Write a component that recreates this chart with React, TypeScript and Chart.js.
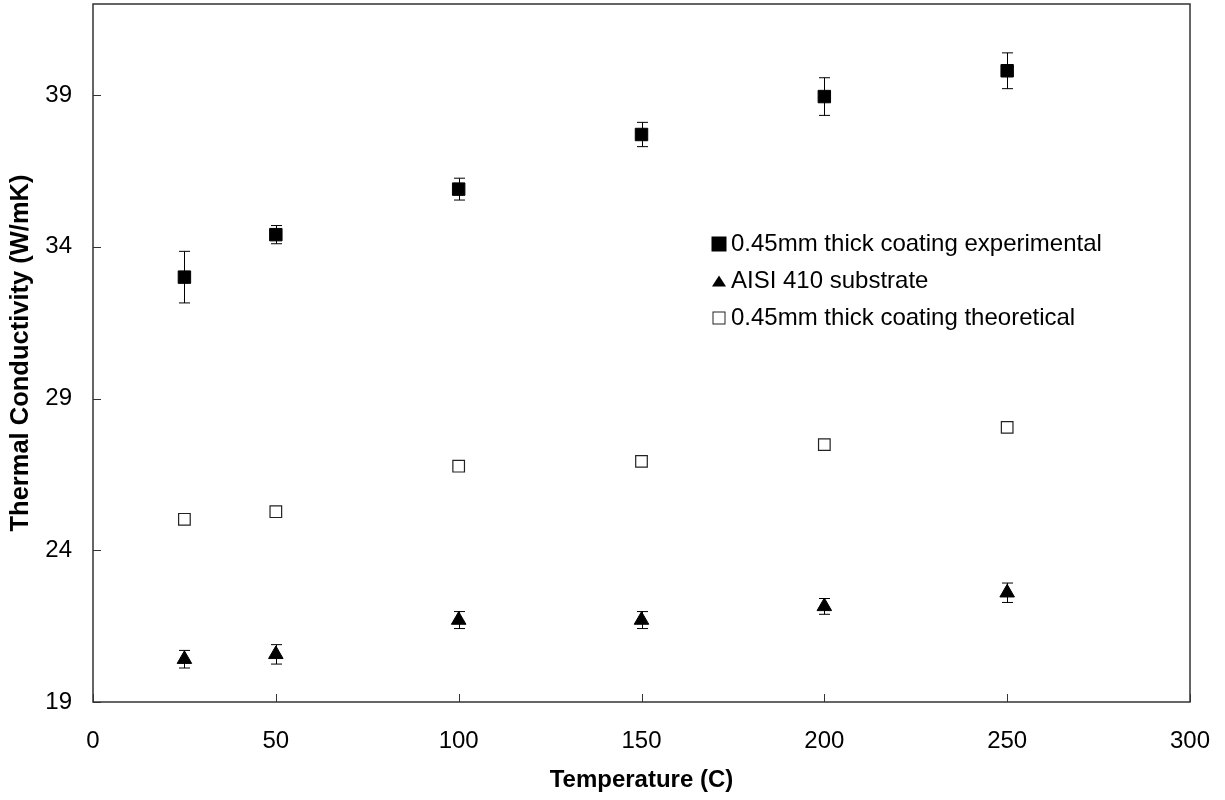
import React, { useEffect, useRef } from 'react';
import { Chart, registerables } from 'chart.js';

Chart.register(...registerables);

// ---- data ----
const temperatures = [25, 50, 100, 150, 200, 250];
const experimental = [33.0, 34.4, 35.9, 37.7, 38.95, 39.8];
const experimentalErr = [0.85, 0.3, 0.36, 0.4, 0.62, 0.59];
const substrate = [20.41, 20.57, 21.7, 21.7, 22.15, 22.6];
const substrateErr = [0.29, 0.32, 0.28, 0.28, 0.26, 0.32];
const theoretical = [25.02, 25.27, 26.77, 26.93, 27.48, 28.05];
const xTicks = [0, 50, 100, 150, 200, 250, 300];
const yTicks = [19, 24, 29, 34, 39];
const seriesLabels = [
  '0.45mm thick coating experimental',
  'AISI 410 substrate',
  '0.45mm thick coating theoretical',
];
const xTitle = 'Temperature (C)';
const yTitle = 'Thermal Conductivity (W/mK)';

const FONT = '"Liberation Sans", Arial, Helvetica, sans-serif';
const AXIS_COLOR = '#333';

const toPoints = (ys: number[]) => temperatures.map((x, i) => ({ x, y: ys[i] }));

const errorBarPlugin = {
  id: 'errorBars',
  beforeDatasetsDraw(chart: any) {
    const { ctx } = chart;
    const xs = chart.scales.x;
    const ys = chart.scales.y;
    ctx.save();
    ctx.strokeStyle = '#000';
    ctx.lineWidth = 1;
    chart.data.datasets.forEach((ds: any) => {
      const errs: number[] | undefined = ds.errors;
      if (!errs) return;
      ds.data.forEach((p: any, i: number) => {
        const px = Math.round(xs.getPixelForValue(p.x)) + 0.5;
        const top = ys.getPixelForValue(p.y + errs[i]);
        const bot = ys.getPixelForValue(p.y - errs[i]);
        const cap = 5.5;
        ctx.beginPath();
        ctx.moveTo(px, top);
        ctx.lineTo(px, bot);
        ctx.moveTo(px - cap, top);
        ctx.lineTo(px + cap, top);
        ctx.moveTo(px - cap, bot);
        ctx.lineTo(px + cap, bot);
        ctx.stroke();
      });
    });
    ctx.restore();
  },
};

const framePlugin = {
  id: 'frame',
  afterDatasetsDraw(chart: any) {
    const { ctx, chartArea } = chart;
    const xs = chart.scales.x;
    const ys = chart.scales.y;
    ctx.save();
    ctx.strokeStyle = AXIS_COLOR;
    ctx.lineWidth = 1.5;
    ctx.strokeRect(chartArea.left, chartArea.top, chartArea.right - chartArea.left, chartArea.bottom - chartArea.top);
    ctx.lineWidth = 1;
    ctx.beginPath();
    xs.ticks.forEach((t: any) => {
      const px = Math.round(xs.getPixelForValue(t.value)) + 0.5;
      ctx.moveTo(px, chartArea.bottom);
      ctx.lineTo(px, chartArea.bottom - 8);
    });
    ys.ticks.forEach((t: any) => {
      const py = Math.round(ys.getPixelForValue(t.value)) + 0.5;
      ctx.moveTo(chartArea.left, py);
      ctx.lineTo(chartArea.left + 8, py);
    });
    ctx.stroke();
    ctx.restore();
  },
};

function drawMarker(ctx: CanvasRenderingContext2D, style: string, x: number, y: number, size: number) {
  ctx.beginPath();
  if (style === 'filledSquare') {
    ctx.fillStyle = '#000';
    ctx.fillRect(x - size / 2, y - size / 2, size, size);
  } else if (style === 'triangle') {
    const h = size * 0.8;
    ctx.fillStyle = '#000';
    ctx.moveTo(x, y - h / 2);
    ctx.lineTo(x + size / 2, y + h / 2);
    ctx.lineTo(x - size / 2, y + h / 2);
    ctx.closePath();
    ctx.fill();
  } else {
    ctx.fillStyle = '#fff';
    ctx.strokeStyle = '#222';
    ctx.lineWidth = 1;
    ctx.fillRect(x - size / 2, y - size / 2, size, size);
    ctx.strokeRect(x - size / 2 + 0.5, y - size / 2 + 0.5, size - 1, size - 1);
  }
}

const legendPlugin = {
  id: 'customLegend',
  afterDraw(chart: any) {
    const { ctx } = chart;
    const markerX = 719;
    const textX = 731;
    const rowY = [244, 281, 318];
    const markerStyles = ['filledSquare', 'triangle', 'openSquare'];
    const markerSizes = [15, 14, 13];
    ctx.save();
    ctx.font = `24px ${FONT}`;
    ctx.textBaseline = 'middle';
    ctx.textAlign = 'left';
    chart.data.datasets.forEach((ds: any, i: number) => {
      drawMarker(ctx, markerStyles[i], markerX, rowY[i], markerSizes[i]);
      ctx.fillStyle = '#000';
      ctx.fillText(ds.label, textX, rowY[i]);
    });
    ctx.restore();
  },
};

export default function App() {
  const canvasRef = useRef<HTMLCanvasElement | null>(null);

  useEffect(() => {
    if (!canvasRef.current) return;
    const chart = new Chart(canvasRef.current, {
      type: 'scatter',
      data: {
        datasets: [
          {
            label: seriesLabels[0],
            data: toPoints(experimental),
            errors: experimentalErr,
            pointStyle: 'rect',
            pointRadius: 8.8,
            backgroundColor: '#000',
            borderColor: '#000',
            borderWidth: 1,
            showLine: false,
          } as any,
          {
            label: seriesLabels[1],
            data: toPoints(substrate),
            errors: substrateErr,
            pointStyle: 'triangle',
            pointRadius: 8.4,
            backgroundColor: '#000',
            borderColor: '#000',
            borderWidth: 1,
            showLine: false,
          } as any,
          {
            label: seriesLabels[2],
            data: toPoints(theoretical),
            pointStyle: 'rect',
            pointRadius: 8.2,
            backgroundColor: '#fff',
            borderColor: '#222',
            borderWidth: 1.2,
            showLine: false,
          } as any,
        ],
      },
      options: {
        responsive: false,
        animation: false,
        devicePixelRatio: 1,
        events: [],
        layout: { autoPadding: false, padding: { top: 4, right: 35, left: 0, bottom: 0 } },
        plugins: {
          legend: { display: false },
          tooltip: { enabled: false },
        },
        scales: {
          x: {
            type: 'linear',
            position: 'bottom',
            min: 0,
            max: 300,
            afterBuildTicks: (s: any) => {
              s.ticks = xTicks.map((v) => ({ value: v }));
            },
            afterFit: (s: any) => {
              s.height = 98;
              s.paddingLeft = 0;
              s.paddingRight = 0;
            },
            grid: { display: false, drawTicks: false },
            border: { display: false },
            ticks: {
              color: '#000',
              font: { family: FONT, size: 24 },
              padding: 25,
              maxRotation: 0,
              autoSkip: false,
            },
            title: {
              display: true,
              text: xTitle,
              color: '#000',
              font: { family: FONT, size: 24, weight: 'bold' },
              padding: { top: 0, bottom: 5 },
            },
          },
          y: {
            type: 'linear',
            position: 'left',
            min: 19,
            max: 42,
            afterBuildTicks: (s: any) => {
              s.ticks = yTicks.map((v) => ({ value: v }));
            },
            afterFit: (s: any) => {
              s.width = 93;
              s.paddingTop = 0;
              s.paddingBottom = 0;
            },
            grid: { display: false, drawTicks: false },
            border: { display: false },
            ticks: {
              color: '#000',
              font: { family: FONT, size: 24 },
              padding: 21,
              autoSkip: false,
            },
            title: {
              display: true,
              text: yTitle,
              color: '#000',
              font: { family: FONT, size: 25.5, weight: 'bold' },
              padding: { top: 6, bottom: 0 },
            },
          },
        },
      } as any,
      plugins: [errorBarPlugin, framePlugin, legendPlugin],
    });
    return () => chart.destroy();
  }, []);

  return (
    <div style={{ position: 'absolute', left: 0, top: 0, width: 1225, height: 800, background: '#fff' }}>
      <canvas ref={canvasRef} width={1225} height={800} style={{ display: 'block', width: 1225, height: 800 }} />
    </div>
  );
}
